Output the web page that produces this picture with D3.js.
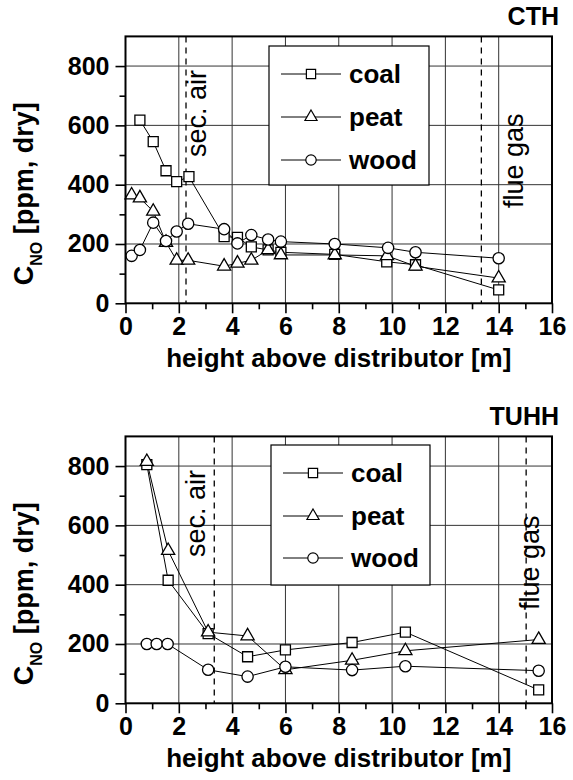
<!DOCTYPE html>
<html>
<head>
<meta charset="utf-8">
<script src="https://cdn.jsdelivr.net/npm/d3@7"></script>
<style>
  html, body { margin: 0; padding: 0; background: #fff; }
  svg { display: block; }
  text { font-family: "Liberation Sans", Arial, Helvetica, sans-serif; }
</style>
</head>
<body>
<svg id="chart" width="573" height="780"></svg>
<script>
// ---------- DATA ----------
const xTicks = [0, 2, 4, 6, 8, 10, 12, 14, 16];
const xMinorTicks = [1, 3, 5, 7, 9, 11, 13, 15];
const yTicks = [0, 200, 400, 600, 800];
const yMinorTicks = [100, 300, 500, 700];
const seriesNames = ["coal", "peat", "wood"];
const panelTitles = ["CTH", "TUHH"];
const markerLabels = ["sec. air", "flue gas"];

// CTH
const cthCoalX = [0.54, 1.04, 1.52, 1.92, 2.38, 3.7, 4.2, 4.72, 5.35, 5.83, 7.85, 9.8, 10.88, 14.0];
const cthCoalY = [618, 545, 447, 410, 427, 225, 222, 190, 180, 172, 165, 140, 130, 45];
const cthPeatX = [0.23, 0.54, 1.04, 1.52, 1.92, 2.35, 3.7, 4.2, 4.72, 5.35, 5.83, 7.85, 9.81, 10.88, 14.0];
const cthPeatY = [365, 355, 310, 205, 145, 145, 125, 135, 145, 180, 163, 163, 160, 125, 85];
const cthWoodX = [0.23, 0.54, 1.04, 1.52, 1.92, 2.35, 3.7, 4.2, 4.72, 5.35, 5.83, 7.85, 9.85, 10.88, 14.0];
const cthWoodY = [160, 180, 272, 210, 242, 268, 250, 202, 230, 215, 208, 200, 187, 172, 152];
const cthLinesX = [2.27, 13.35];

// TUHH
const tuhhCoalX = [0.8, 1.6, 3.1, 4.58, 6.0, 8.5, 10.5, 15.5];
const tuhhCoalY = [805, 415, 235, 157, 180, 205, 240, 45];
const tuhhPeatX = [0.8, 1.6, 3.1, 4.58, 6.0, 8.5, 10.5, 15.5];
const tuhhPeatY = [815, 515, 240, 227, 113, 145, 177, 215];
const tuhhWoodX = [0.8, 1.17, 1.58, 3.1, 4.58, 6.0, 8.5, 10.5, 15.5];
const tuhhWoodY = [200, 200, 200, 113, 90, 123, 112, 125, 110];
const tuhhLinesX = [3.33, 15.03];

// ---------- DRAW ----------
const svg = d3.select("#chart");
const markerShapes = { coal: d3.symbolSquare, peat: d3.symbolTriangle, wood: d3.symbolCircle };
const markerSizes = { coal: 100, peat: 75, wood: 100 };

function zip(xs, ys) { return xs.map((x, i) => ({ x: x, y: ys[i] })); }

function drawPanel(cfg) {
  const g = svg.append("g");
  const x = d3.scaleLinear().domain([0, 16]).range([cfg.left, cfg.right]);
  const y = d3.scaleLinear().domain([0, 900]).range([cfg.bottom, cfg.top]);

  // grid
  g.append("g").selectAll("line").data(xTicks.slice(1, -1)).join("line")
    .attr("x1", d => x(d)).attr("x2", d => x(d))
    .attr("y1", cfg.top).attr("y2", cfg.bottom)
    .attr("stroke", "#333").attr("stroke-width", 1);
  g.append("g").selectAll("line").data(yTicks.slice(1)).join("line")
    .attr("x1", cfg.left).attr("x2", cfg.right)
    .attr("y1", d => y(d)).attr("y2", d => y(d))
    .attr("stroke", "#333").attr("stroke-width", 1);

  // dashed lines
  g.append("g").selectAll("line").data(cfg.linesX).join("line")
    .attr("x1", d => x(d)).attr("x2", d => x(d))
    .attr("y1", cfg.top).attr("y2", cfg.bottom)
    .attr("stroke", "#000").attr("stroke-width", 1.3)
    .attr("stroke-dasharray", "6,5");

  // annotation texts
  cfg.linesX.forEach((lx, i) => {
    const a = cfg.annot[i];
    g.append("text")
      .attr("transform", `translate(${a.bx},${a.by}) rotate(-90)`)
      .attr("font-size", 27).attr("fill", "#000")
      .text(markerLabels[i]);
  });

  // legend box
  const lg = g.append("g");
  lg.append("rect")
    .attr("x", cfg.legend.x).attr("y", cfg.legend.y)
    .attr("width", cfg.legend.w).attr("height", cfg.legend.h)
    .attr("fill", "#fff").attr("stroke", "#000").attr("stroke-width", 1.2);
  seriesNames.forEach((name, i) => {
    const ry = cfg.legend.rows[i];
    lg.append("line").attr("x1", cfg.legend.x + 12).attr("x2", cfg.legend.x + 72)
      .attr("y1", ry).attr("y2", ry).attr("stroke", "#000").attr("stroke-width", 1);
    lg.append("path")
      .attr("d", d3.symbol().type(markerShapes[name]).size(markerSizes[name] * 0.85)())
      .attr("transform", `translate(${cfg.legend.x + 42},${ry})`)
      .attr("fill", "#fff").attr("stroke", "#000").attr("stroke-width", 1.2);
    lg.append("text").attr("x", cfg.legend.x + 80).attr("y", ry)
      .attr("dy", "0.35em").attr("font-size", 26).attr("font-weight", "bold")
      .text(name);
  });

  // series
  const line = d3.line().x(d => x(d.x)).y(d => y(d.y));
  cfg.series.forEach(s => {
    g.append("path").datum(s.pts).attr("d", line)
      .attr("fill", "none").attr("stroke", "#000").attr("stroke-width", 1);
  });
  cfg.series.forEach(s => {
    g.append("g").selectAll("path").data(s.pts).join("path")
      .attr("d", d3.symbol().type(markerShapes[s.name]).size(markerSizes[s.name])())
      .attr("transform", d => `translate(${x(d.x)},${y(d.y)})`)
      .attr("fill", "#fff").attr("stroke", "#000").attr("stroke-width", 1.3);
  });

  // frame
  g.append("rect").attr("x", cfg.left).attr("y", cfg.top)
    .attr("width", cfg.right - cfg.left).attr("height", cfg.bottom - cfg.top)
    .attr("fill", "none").attr("stroke", "#000").attr("stroke-width", 2);

  // axes
  const xAxis = g.append("g").attr("transform", `translate(0,${cfg.bottom})`)
    .call(d3.axisBottom(x).tickValues(xTicks).tickSize(10).tickPadding(4).tickFormat(d3.format("d")));
  const xMinor = g.append("g").attr("transform", `translate(0,${cfg.bottom})`)
    .call(d3.axisBottom(x).tickValues(xMinorTicks).tickSize(6).tickFormat(""));
  const yAxis = g.append("g").attr("transform", `translate(${cfg.left},0)`)
    .call(d3.axisLeft(y).tickValues(yTicks).tickSize(10).tickPadding(6).tickFormat(d3.format("d")));
  const yMinor = g.append("g").attr("transform", `translate(${cfg.left},0)`)
    .call(d3.axisLeft(y).tickValues(yMinorTicks).tickSize(6).tickFormat(""));
  [xAxis, xMinor, yAxis, yMinor].forEach(a => {
    a.select(".domain").remove();
    a.selectAll("line").attr("stroke", "#000").attr("stroke-width", 1.6);
    a.selectAll("text").attr("font-size", 25).attr("font-weight", "bold")
      .attr("fill", "#000").attr("font-family", "Liberation Sans, Arial, sans-serif");
  });

  // axis titles
  g.append("text").attr("x", (cfg.left + cfg.right) / 2).attr("y", cfg.bottom + 64)
    .attr("text-anchor", "middle").attr("font-size", 26).attr("font-weight", "bold")
    .text("height above distributor [m]");
  const yt = g.append("text")
    .attr("transform", `translate(33,${(cfg.top + cfg.bottom) / 2 + 24}) rotate(-90)`)
    .attr("text-anchor", "middle").attr("font-size", 27).attr("font-weight", "bold");
  yt.append("tspan").text("C");
  yt.append("tspan").attr("font-size", 16).attr("dy", 9).text("NO");
  yt.append("tspan").attr("dy", -9).text(" [ppm, dry]");

  // panel title
  g.append("text").attr("x", cfg.right + 7).attr("y", cfg.top - 11)
    .attr("text-anchor", "end").attr("font-size", 25).attr("font-weight", "bold")
    .text(cfg.title);
}

drawPanel({
  title: panelTitles[0],
  left: 125.5, right: 552, top: 36.4, bottom: 303.3,
  linesX: cthLinesX,
  annot: [{ bx: 206, by: 157 }, { bx: 523, by: 208 }],
  legend: { x: 269, y: 46, w: 160, h: 139, rows: [74, 117, 160] },
  series: [
    { name: "coal", pts: zip(cthCoalX, cthCoalY) },
    { name: "peat", pts: zip(cthPeatX, cthPeatY) },
    { name: "wood", pts: zip(cthWoodX, cthWoodY) }
  ]
});

drawPanel({
  title: panelTitles[1],
  left: 125.5, right: 552, top: 436.4, bottom: 703.3,
  linesX: tuhhLinesX,
  annot: [{ bx: 205, by: 557 }, { bx: 539, by: 610 }],
  legend: { x: 271, y: 445, w: 159, h: 140, rows: [473, 516, 558] },
  series: [
    { name: "coal", pts: zip(tuhhCoalX, tuhhCoalY) },
    { name: "peat", pts: zip(tuhhPeatX, tuhhPeatY) },
    { name: "wood", pts: zip(tuhhWoodX, tuhhWoodY) }
  ]
});
</script>
</body>
</html>
